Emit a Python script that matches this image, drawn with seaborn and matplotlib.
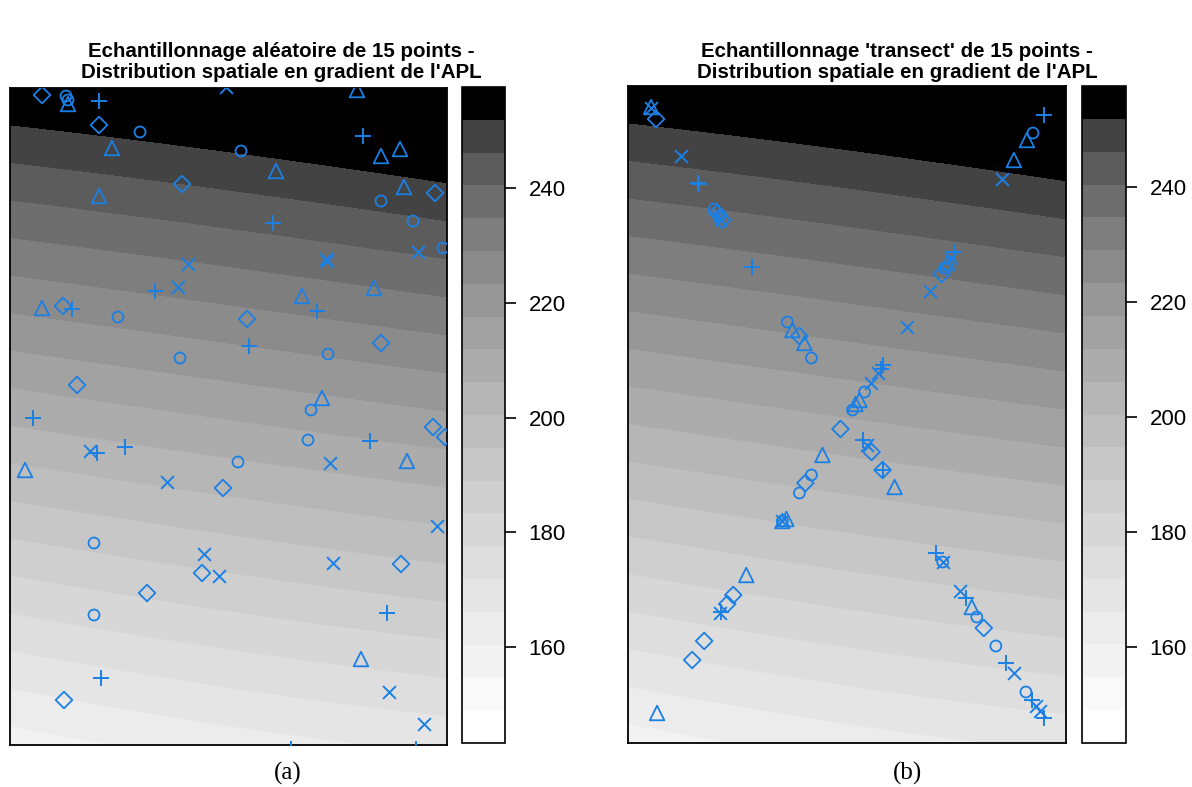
import numpy as np
import pandas as pd
import matplotlib
matplotlib.use("Agg")
import matplotlib.pyplot as plt
import seaborn as sns

# ---------------- data ----------------
# Sampling locations (field coordinates, x: 0..437, y: 0..657)
random_circle = [(56, 649), (58, 645), (130, 613), (231, 594), (371, 544), (403, 524), (433, 497),
                 (108, 428), (318, 391), (170, 387), (301, 335), (298, 305), (228, 283), (84, 202), (84, 130)]
random_triangle = [(58, 641), (347, 655), (102, 597), (371, 589), (390, 596), (266, 574), (89, 549),
                   (394, 558), (292, 449), (364, 457), (32, 437), (312, 347), (15, 275), (397, 284), (351, 86)]
random_plus = [(89, 644), (353, 609), (263, 522), (145, 454), (62, 436), (307, 434), (239, 399),
               (23, 327), (360, 304), (87, 292), (115, 298), (377, 132), (91, 67), (281, -4), (406, -4)]
random_cross = [(216, 658), (408, 493), (316, 486), (317, 484), (178, 481), (168, 458), (80, 294),
                (320, 282), (157, 263), (427, 219), (194, 191), (209, 169), (323, 182), (379, 53), (414, 21)]
random_diamond = [(32, 650), (89, 620), (172, 561), (425, 552), (53, 439), (237, 426), (371, 402),
                  (67, 360), (423, 318), (435, 308), (213, 257), (192, 172), (391, 181), (137, 152), (54, 45)]

transect_circle = [(86, 534), (91, 527), (159, 421), (183, 385), (236, 351), (224, 333), (316, 475),
                   (183, 268), (171, 250), (154, 222), (314, 181), (348, 126), (367, 97), (397, 51), (404, 610)]
transect_triangle = [(23, 636), (164, 413), (176, 400), (231, 343), (227, 339), (319, 480), (194, 288),
                     (154, 222), (158, 224), (118, 168), (29, 30), (266, 256), (343, 136), (398, 603), (385, 583)]
transect_plus = [(70, 560), (71, 559), (124, 476), (254, 378), (252, 374), (325, 491), (234, 303),
                 (254, 273), (307, 190), (337, 145), (377, 80), (403, 43), (415, 25), (415, 628), (93, 131)]
transect_cross = [(23, 635), (53, 587), (93, 523), (242, 360), (249, 370), (278, 416), (301, 452),
                  (322, 485), (238, 298), (154, 222), (92, 130), (314, 181), (331, 152), (385, 70),
                  (407, 37), (411, 32), (373, 564)]
transect_diamond = [(28, 624), (89, 530), (94, 523), (171, 407), (313, 469), (212, 314), (177, 260),
                    (105, 148), (99, 139), (76, 102), (64, 83), (243, 291), (254, 273), (355, 115)]

# APL gradient surface parameters and colour-key range
apl_level_ref = 252.0      # value at reference iso-line
apl_ref_height = 0.945     # relative height of reference iso-line on the left edge
apl_gradient = 100.0       # APL units per relative height
key_min, key_max, n_bands = 143.3, 257.6, 20
key_ticks = [160, 180, 200, 220, 240]

titles = ["Echantillonnage aléatoire de 15 points -\nDistribution spatiale en gradient de l'APL",
          "Echantillonnage 'transect' de 15 points -\nDistribution spatiale en gradient de l'APL"]
panel_tags = ["(a)", "(b)"]

XMAX, YMAX = 437, 657

# ---------------- style ----------------
sns.set_style("white")
plt.rcParams["font.family"] = ["Liberation Sans", "DejaVu Sans"]
plt.rcParams["text.color"] = "black"
blue = "#1a80e6"

# ---------------- surface ----------------
gx = np.linspace(0, XMAX, 500)
gy = np.linspace(0, YMAX, 700)
GX, GY = np.meshgrid(gx, gy)
u = GX / XMAX
v = GY / YMAX
shift = v * (0.07 * u + 0.016 * u ** 2) + (1 - v) * (0.13 * u - 0.03 * u ** 2)
Z = apl_level_ref + apl_gradient * (v - apl_ref_height + shift)
Z = np.clip(Z, key_min + 0.01, key_max - 0.01)

levels = np.linspace(key_min, key_max, n_bands + 1)
gamma_vals = (np.arange(n_bands) / (n_bands - 1)) ** (1 / 2.2)   # 0 = black
band_colors = [str(g) for g in gamma_vals[::-1]]                # ascending levels: white -> black

fig = plt.figure(figsize=(11.92, 7.87), dpi=100)
W, H = 1192, 787

def fx(px):
    return px / W

def fy(py):
    return 1 - py / H

panels = [
    dict(ax=(10, 88, 447, 745), cb=(462, 87, 505, 743), title_x=281,
         tag_x=288, pts=[random_circle, random_triangle, random_plus, random_cross, random_diamond]),
    dict(ax=(628, 86, 1066, 743), cb=(1082, 86, 1126, 743), title_x=897,
         tag_x=908, pts=[transect_circle, transect_triangle, transect_plus, transect_cross, transect_diamond]),
]

marker_specs = [
    dict(marker="o", s=62, filled=True),
    dict(marker="^", s=110, filled=True),
    dict(marker="+", s=135, filled=False),
    dict(marker="x", s=85, filled=False),
    dict(marker="D", s=72, filled=True),
]

for i, p in enumerate(panels):
    x0, y0, x1, y1 = p["ax"]
    ax = fig.add_axes([fx(x0), fy(y1), fx(x1 - x0), (y1 - y0) / H])
    cf = ax.contourf(GX, GY, Z, levels=levels, colors=band_colors, antialiased=False)
    for pts, spec in zip(p["pts"], marker_specs):
        df = pd.DataFrame(pts, columns=["x", "y"])
        if spec["filled"]:
            sns.scatterplot(data=df, x="x", y="y", marker=spec["marker"], s=spec["s"],
                            facecolor="none", edgecolor=blue, linewidth=1.3, ax=ax, zorder=3)
        else:
            sns.scatterplot(data=df, x="x", y="y", marker=spec["marker"], s=spec["s"],
                            color=blue, linewidth=1.4, ax=ax, zorder=3)
    ax.set_xlim(0, XMAX)
    ax.set_ylim(0, YMAX)
    ax.set_xticks([])
    ax.set_yticks([])
    ax.set_xlabel("")
    ax.set_ylabel("")
    for sp in ax.spines.values():
        sp.set_visible(True)
        sp.set_color("black")
        sp.set_linewidth(1.3)

    c0, cy0, c1, cy1 = p["cb"]
    cax = fig.add_axes([fx(c0), fy(cy1), fx(c1 - c0), (cy1 - cy0) / H])
    cb = fig.colorbar(cf, cax=cax, ticks=key_ticks)
    cb.outline.set_linewidth(1.2)
    cb.outline.set_edgecolor("black")
    cax.tick_params(axis="y", direction="out", length=8, width=1.2, pad=9,
                    labelsize=16, colors="black", labelcolor="black")
    cax.set_ylim(key_min, key_max)

    fig.text(fx(p["title_x"]), fy(62), titles[i], ha="center", va="center",
             fontsize=14.8, fontweight="bold", linespacing=1.15, color="black")
    fig.text(fx(p["tag_x"]), fy(773), panel_tags[i], ha="center", va="center",
             fontsize=18, family=["Liberation Serif", "DejaVu Serif"], color="black")

fig.savefig("out.png", dpi=100)
